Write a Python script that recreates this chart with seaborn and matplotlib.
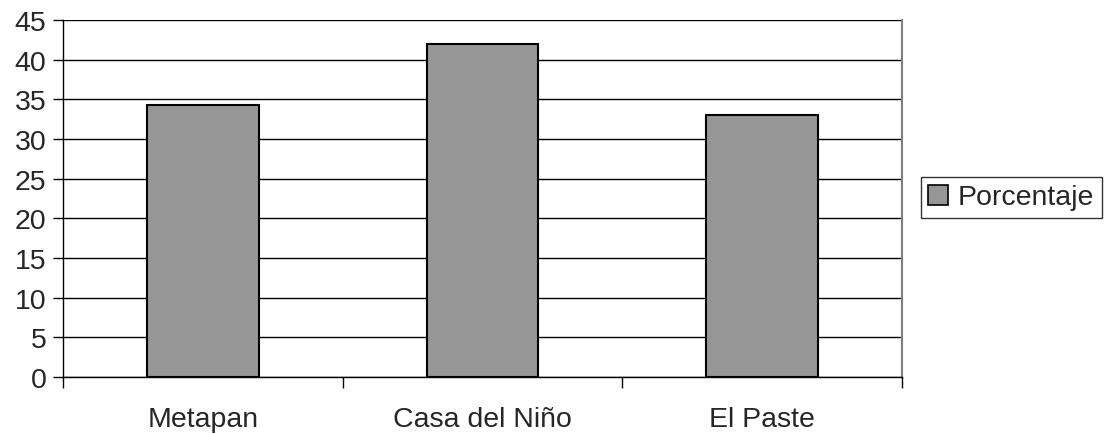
import matplotlib
matplotlib.use("Agg")
import matplotlib.pyplot as plt
from matplotlib.patches import Patch
import seaborn as sns
import pandas as pd

categories = ["Metapan", "Casa del Niño", "El Paste"]
porcentaje = [34.3, 42.0, 33.0]
y_ticks = [0, 5, 10, 15, 20, 25, 30, 35, 40, 45]

df = pd.DataFrame({"lugar": categories, "Porcentaje": porcentaje})

sns.set_style("white")
plt.rcParams["font.family"] = ["Liberation Sans", "DejaVu Sans"]

FS = 20.5

fig = plt.figure(figsize=(11.06, 4.35), dpi=100)
ax = fig.add_axes([63 / 1106, 1 - 378 / 435, (902 - 63) / 1106, (378 - 21) / 435])

sns.barplot(data=df, x="lugar", y="Porcentaje", color="#969696", width=0.4,
            edgecolor="black", linewidth=1.5, saturation=1, ax=ax, zorder=3)

ax.set_ylim(0, 45)
ax.set_xlim(-0.5, 2.5)
ax.set_yticks(y_ticks)
ax.set_yticklabels([str(v) for v in y_ticks], fontsize=FS)
ax.yaxis.grid(True, color="black", linewidth=1)
ax.set_axisbelow(True)

# category boundary ticks on the x axis
ax.set_xticks([-0.5, 0.5, 1.5, 2.5])
ax.set_xticklabels([])
ax.tick_params(axis="x", direction="out", length=8, width=1, color="black", bottom=True)
ax.tick_params(axis="y", direction="out", length=7, width=1, color="black", left=True, pad=5)
for i, name in enumerate(categories):
    ax.text(i, -3.6, name, ha="center", va="top", fontsize=FS)

ax.set_xlabel("")
ax.set_ylabel("")
for side in ["left", "bottom"]:
    ax.spines[side].set_color("black")
    ax.spines[side].set_linewidth(1)
ax.spines["top"].set_visible(False)
ax.spines["right"].set_color("#808080")
ax.spines["right"].set_linewidth(1.5)

handle = Patch(facecolor="#969696", edgecolor="black", linewidth=1.2)
leg = fig.legend([handle], ["Porcentaje"], loc="center left",
                 bbox_to_anchor=(921 / 1106, 1 - 198.5 / 435), fontsize=FS,
                 frameon=True, fancybox=False, edgecolor="black",
                 handlelength=0.7, handleheight=0.7, handletextpad=0.35,
                 borderpad=0.25, borderaxespad=0)
leg.get_frame().set_linewidth(1)

fig.savefig("out.png", dpi=100, facecolor="white")
